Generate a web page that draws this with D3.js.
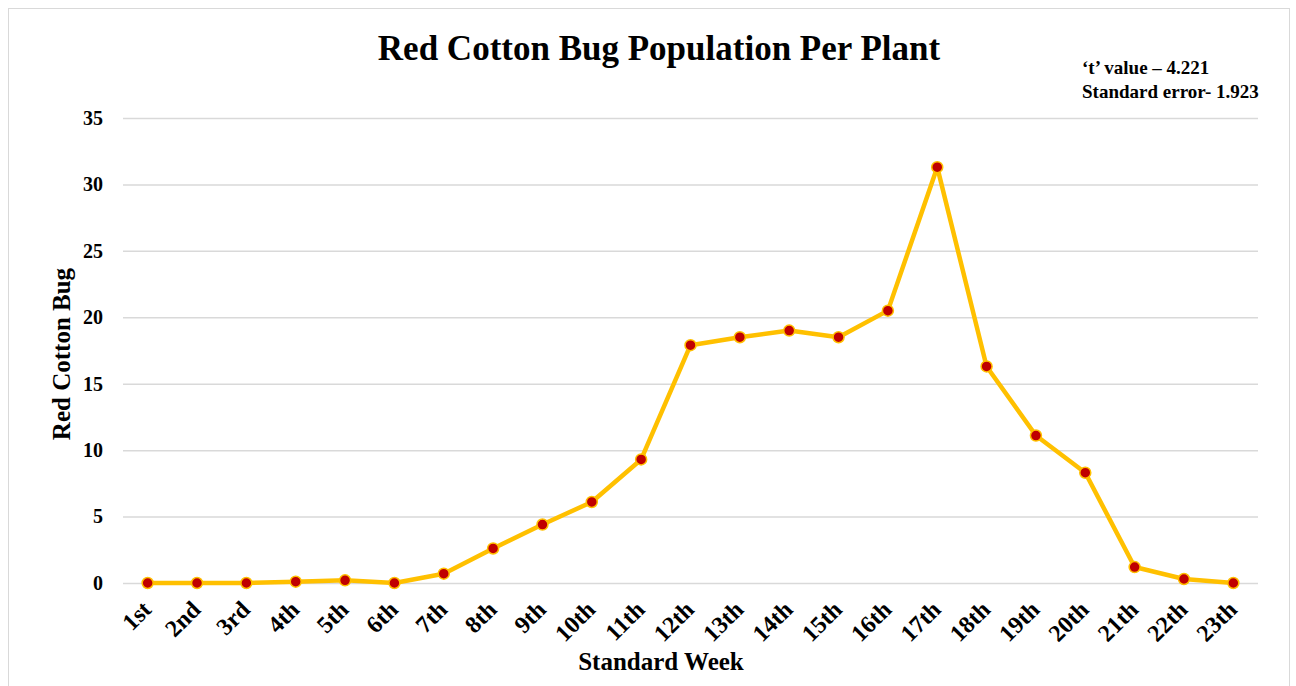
<!DOCTYPE html>
<html>
<head>
<meta charset="utf-8">
<script src="https://cdn.jsdelivr.net/npm/d3@7"></script>
<style>
  body { margin: 0; background: #fff; }
  text { font-family: "Liberation Serif", "Times New Roman", serif; font-weight: bold; }
</style>
</head>
<body>
<div class="chart"></div>
<script>
// Data
const weeks = ["1st", "2nd", "3rd", "4th", "5th", "6th", "7th", "8th", "9th", "10th", "11th", "12th",
  "13th", "14th", "15th", "16th", "17th", "18th", "19th", "20th", "21th", "22th", "23th"];
const bugs = [0, 0, 0, 0.1, 0.2, 0, 0.7, 2.6, 4.4, 6.1, 9.3, 17.9, 18.5, 19.0, 18.5, 20.5, 31.3, 16.3, 11.1, 8.3, 1.2, 0.3, 0];
const yTicks = [0, 5, 10, 15, 20, 25, 30, 35];
const notes = ["\u2018t\u2019 value \u2013 4.221", "Standard error- 1.923"];

const W = 1296, H = 686;
const margin = { top: 118, right: 38, bottom: 103, left: 123 };
const width = W - margin.left - margin.right;
const height = H - margin.top - margin.bottom;

const data = weeks.map((w, i) => ({ week: w, value: bugs[i] }));

const root = d3.select(".chart").append("svg").attr("width", W).attr("height", H);

// outer frame
root.append("rect")
  .attr("x", 8.5).attr("y", 8.5)
  .attr("width", W - 15).attr("height", H)
  .attr("fill", "none").attr("stroke", "#d9d9d9").attr("stroke-width", 1);

const svg = root.append("g").attr("transform", `translate(${margin.left},${margin.top})`);

const xScale = d3.scaleBand().domain(weeks).range([0, width]);
const yScale = d3.scaleLinear().domain([0, 35]).range([height, 0]);

// gridlines + y labels
const yAxisG = svg.append("g")
  .call(d3.axisLeft(yScale).tickValues(yTicks).tickSize(-width).tickPadding(20));
yAxisG.select(".domain").remove();
yAxisG.selectAll(".tick line").attr("stroke", "#d9d9d9").attr("stroke-width", 1.5);
yAxisG.selectAll(".tick text")
  .attr("font-size", 20).attr("fill", "#000")
  .attr("font-family", "Liberation Serif").attr("font-weight", "bold");

// x labels
const xAxisG = svg.append("g")
  .attr("transform", `translate(0,${height})`)
  .call(d3.axisBottom(xScale).tickSize(0).tickPadding(0));
xAxisG.select(".domain").remove();
xAxisG.selectAll(".tick text")
  .attr("font-size", 24).attr("fill", "#000")
  .attr("font-family", "Liberation Serif").attr("font-weight", "bold")
  .attr("text-anchor", "end")
  .attr("y", 0)
  .attr("dy", 0)
  .attr("transform", "translate(5,28) rotate(-45)");

// line
const line = d3.line()
  .x(d => xScale(d.week) + xScale.bandwidth() / 2)
  .y(d => yScale(d.value));

svg.append("path")
  .datum(data)
  .attr("d", line)
  .attr("fill", "none")
  .attr("stroke", "#FFC000")
  .attr("stroke-width", 4.5)
  .attr("stroke-linejoin", "round");

svg.append("g").selectAll("circle")
  .data(data)
  .enter()
  .append("circle")
  .attr("cx", d => xScale(d.week) + xScale.bandwidth() / 2)
  .attr("cy", d => yScale(d.value))
  .attr("r", 5.5)
  .attr("fill", "#C00000")
  .attr("stroke", "#FFC000")
  .attr("stroke-width", 1.5);

// title
root.append("text")
  .attr("x", 659).attr("y", 60)
  .attr("text-anchor", "middle")
  .attr("font-size", 35)
  .text("Red Cotton Bug Population Per Plant");

// annotation
root.append("g").selectAll("text")
  .data(notes)
  .enter()
  .append("text")
  .attr("x", 1082)
  .attr("y", (d, i) => 74 + i * 24)
  .attr("font-size", 19)
  .text(d => d);

// axis titles
root.append("text")
  .attr("transform", "translate(70,354) rotate(-90)")
  .attr("text-anchor", "middle")
  .attr("font-size", 25)
  .text("Red Cotton Bug");

root.append("text")
  .attr("x", 661).attr("y", 670)
  .attr("text-anchor", "middle")
  .attr("font-size", 25)
  .text("Standard Week");
</script>
</body>
</html>
